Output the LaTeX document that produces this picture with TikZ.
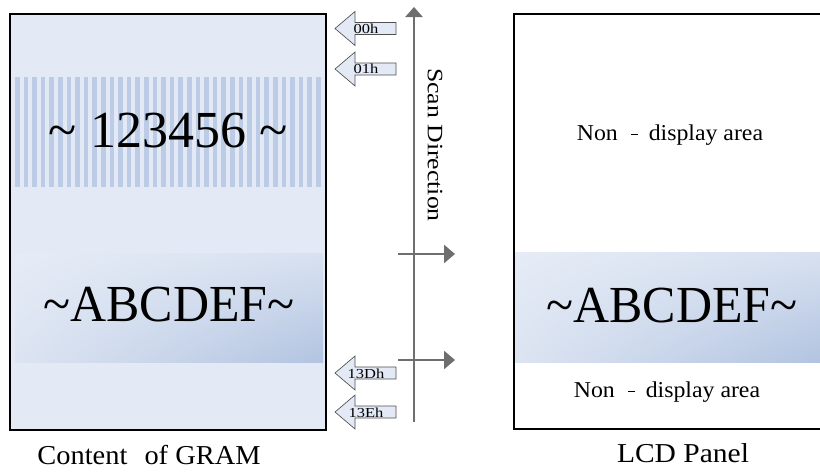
\documentclass[tikz,border=0pt]{standalone}
\usepackage{fontspec}
\setmainfont{Liberation Serif}
\usepackage{graphicx}
\usetikzlibrary{arrows.meta,shadings}
\definecolor{gbg}{HTML}{E3EAF5}
\definecolor{gstripe}{HTML}{BCCCE6}
\definecolor{glite}{HTML}{E5ECF6}
\definecolor{gmidt}{HTML}{D8E1F0}
\definecolor{gmidb}{HTML}{DCE4F2}
\definecolor{gdark}{HTML}{B2C4E1}
\definecolor{scang}{HTML}{6E6E6E}
\definecolor{arrfill}{HTML}{E3EAF6}
\definecolor{arrline}{HTML}{505050}
\tikzset{
  panel/.style={draw=black, line width=1.6pt},
  scanline/.style={draw=scang, line width=2pt, -{Triangle[length=7.5pt,width=12.75pt]}},
  rowline/.style={draw=scang, line width=2pt, -{Triangle[length=8.25pt,width=13.5pt]}},
  blockarr/.style={fill=arrfill, draw=arrline, line width=0.5pt},
  addr/.style={font=\fontsize{10.3}{12}\selectfont, inner sep=0pt},
  bigtxt/.style={font=\fontsize{39}{44}\selectfont, inner sep=0pt},
  areatxt/.style={font=\fontsize{17}{20}\selectfont, inner sep=0pt, anchor=base},
  captxt/.style={font=\fontsize{20.5}{24}\selectfont, inner sep=0pt, anchor=base},
  scantxt/.style={font=\fontsize{16.5}{20}\selectfont, inner sep=0pt, rotate=-90},
  bandshade/.style={upper left=glite, upper right=gmidt, lower left=gmidb, lower right=gdark},
}
\begin{document}
\begin{tikzpicture}[x=0.75pt,y=-0.75pt]
\useasboundingbox (0,0) rectangle (820,475);
% left panel (GRAM)
\fill[gbg] (10,14) rectangle (326,430);
\foreach \i in {0,...,35} {
  \fill[gstripe] ({15+\i*8.6},77) rectangle ({19.6+\i*8.6},187);
}
\shade[bandshade] (15,253) rectangle (323,362);
\draw[panel] (10,14) rectangle (326,430);
\node[bigtxt] (num) at (168,131) {\textasciitilde{} 123456 \textasciitilde};
\node[bigtxt] (abcl) at (169,305) {\scalebox{0.96}[1]{\textasciitilde ABCDEF\textasciitilde}};
\node[captxt] (cap1) at (149,464) {\scalebox{1.04}[1]{Content\hspace{0.6em}of GRAM}};
% address block arrows
\foreach \c/\lab/\nm in {28.5/00h/a0, 69/01h/a1, 373/13Dh/a2, 412/13Eh/a3} {
  \draw[blockarr] (335,\c) -- (355,\c-17) -- (355,\c-6) -- (396,\c-6)
     -- (396,\c+6) -- (355,\c+6) -- (355,\c+17) -- cycle;
  \node[addr] (\nm) at (366,\c+0.3) {\scalebox{1.2}[1]{\lab}};
}
% scan direction
\coordinate (sb) at (414,422);
\coordinate (st) at (414,7);
\draw[scanline] (sb) -- (st);
\node[scantxt] (scan) at (435,145) {\scalebox{1.17}[1]{Scan Direction}};
\coordinate (h1a) at (398,254);
\coordinate (h1b) at (455,254);
\coordinate (h2a) at (398,360);
\coordinate (h2b) at (455,360);
\draw[rowline] (h1a) -- (h1b);
\draw[rowline] (h2a) -- (h2b);
% right panel (LCD)
\fill[white] (514,14) rectangle (820,429);
\shade[bandshade] (515,252) rectangle (820,362);
\draw[panel] (820,14) -- (514,14) -- (514,429) -- (820,429);
\node[areatxt] (nd1) at (670,140) {\scalebox{1.05}[1]{Non\hspace{0.55em}\rule[0.22em]{0.3em}{0.06em}\hspace{0.45em}display area}};
\node[areatxt] (nd2) at (667,397) {\scalebox{1.05}[1]{Non\hspace{0.55em}\rule[0.22em]{0.3em}{0.06em}\hspace{0.45em}display area}};
\node[bigtxt] (abcr) at (672,306) {\scalebox{0.96}[1]{\textasciitilde ABCDEF\textasciitilde}};
\node[captxt] (cap2) at (683,462) {\scalebox{1.08}[1]{LCD Panel}};
\end{tikzpicture}
\end{document}
